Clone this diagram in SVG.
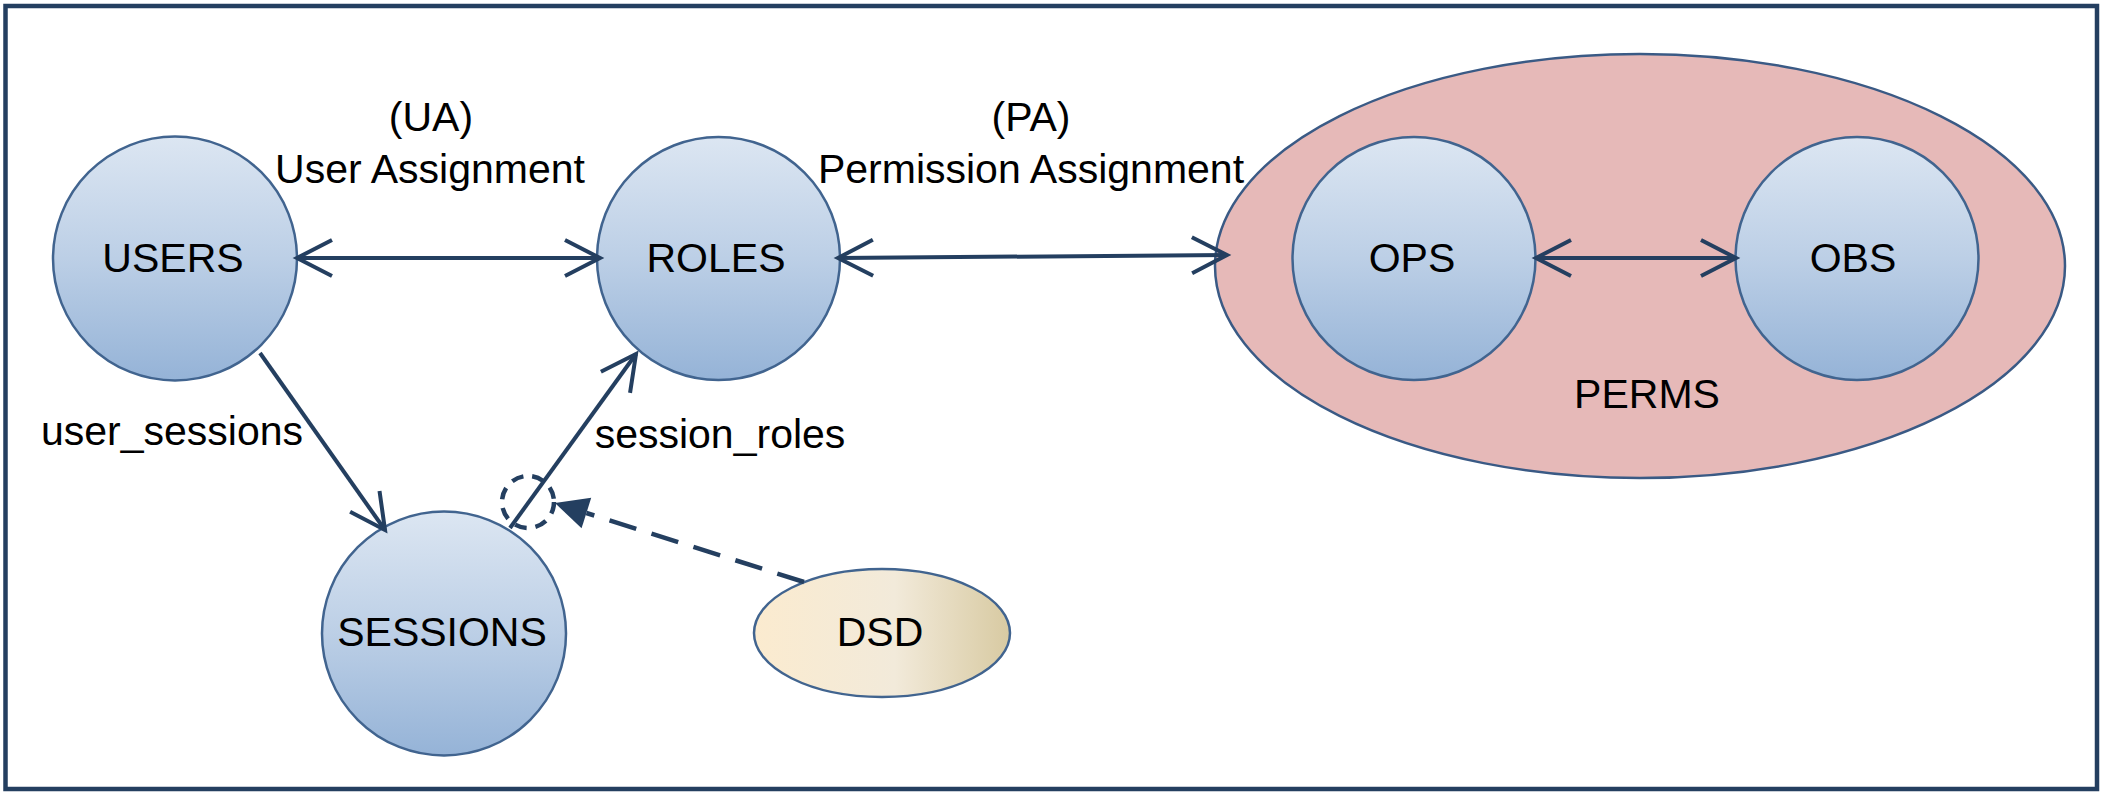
<svg xmlns="http://www.w3.org/2000/svg" width="2101" height="793" viewBox="0 0 2101 793">
<style>
  text { font-family: "Liberation Sans", Arial, sans-serif; font-size: 41px; fill: #000; text-anchor: middle; }
  .node { fill: url(#blueGrad); stroke: #41648F; stroke-width: 2.5; }
  .conn { fill: none; stroke: #243F60; stroke-width: 4; }
  .dash { fill: none; stroke: #243F60; stroke-width: 4.5; stroke-dasharray: 28 16; }
</style>
<defs>
  <linearGradient id="blueGrad" x1="0" y1="0" x2="0" y2="1">
    <stop offset="0" stop-color="#DCE6F2"/>
    <stop offset="0.5" stop-color="#BCCFE6"/>
    <stop offset="1" stop-color="#95B3D7"/>
  </linearGradient>
  <linearGradient id="dsdGrad" x1="0" y1="0" x2="1" y2="0">
    <stop offset="0" stop-color="#FBEBCF"/>
    <stop offset="0.55" stop-color="#F2EADA"/>
    <stop offset="1" stop-color="#D8CAA2"/>
  </linearGradient>
  <marker id="openArrow" markerUnits="userSpaceOnUse" markerWidth="60" markerHeight="60" viewBox="-50 -30 60 60" refX="0" refY="0" orient="auto-start-reverse">
    <path d="M-35,-18 L0,0 L-35,18" fill="none" stroke="#243F60" stroke-width="4" stroke-linejoin="miter"/>
  </marker>
  <marker id="solidArrow" markerUnits="userSpaceOnUse" markerWidth="50" markerHeight="50" viewBox="-5 -25 50 50" refX="0" refY="0" orient="auto">
    <path d="M0,-16 L33,0 L0,16 Z" fill="#243F60"/>
  </marker>
</defs>

<rect id="frame" x="5.5" y="6" width="2091.5" height="783" fill="#FFFFFF" stroke="#243F60" stroke-width="4.5"/>

<g id="perms">
  <ellipse cx="1640" cy="266" rx="425" ry="212" fill="#E6B9B8" stroke="#3A5A85" stroke-width="2.5"/>
  <text x="1647" y="408">PERMS</text>
</g>

<g id="users">
  <circle class="node" cx="175" cy="258.5" r="122"/>
  <text x="173" y="272">USERS</text>
</g>
<g id="roles">
  <circle class="node" cx="718.5" cy="258.5" r="121.5"/>
  <text x="716" y="272">ROLES</text>
</g>
<g id="sessions">
  <circle class="node" cx="444" cy="633.5" r="122"/>
  <text x="442" y="646">SESSIONS</text>
</g>
<g id="ops">
  <circle class="node" cx="1414" cy="258.5" r="121.5"/>
  <text x="1412" y="272">OPS</text>
</g>
<g id="obs">
  <circle class="node" cx="1857" cy="258.5" r="121.5"/>
  <text x="1853" y="272">OBS</text>
</g>
<g id="dsd">
  <ellipse cx="882" cy="633" rx="128" ry="64" fill="url(#dsdGrad)" stroke="#41648F" stroke-width="2.5"/>
  <text x="880" y="646">DSD</text>
</g>

<g id="connectors">
  <line class="conn" x1="297" y1="258" x2="600" y2="258" marker-start="url(#openArrow)" marker-end="url(#openArrow)"/>
  <line class="conn" x1="838" y1="258" x2="1227" y2="255" marker-start="url(#openArrow)" marker-end="url(#openArrow)"/>
  <line class="conn" x1="1536" y1="258" x2="1736" y2="258" marker-start="url(#openArrow)" marker-end="url(#openArrow)"/>
  <line class="conn" x1="260" y1="353" x2="385" y2="530" marker-end="url(#openArrow)"/>
  <line class="conn" x1="510" y1="528" x2="636" y2="354" marker-end="url(#openArrow)"/>
  <circle cx="528" cy="502" r="26" fill="none" stroke="#243F60" stroke-width="4.5" stroke-dasharray="12 9"/>
  <line class="dash" x1="804" y1="582" x2="586.4" y2="513" marker-end="url(#solidArrow)"/>
</g>

<g id="labels">
  <text x="431" y="131">(UA)</text>
  <text x="430" y="183">User Assignment</text>
  <text x="1031" y="131">(PA)</text>
  <text x="1031" y="183">Permission Assignment</text>
  <text x="172" y="445">user_sessions</text>
  <text x="720" y="448">session_roles</text>
</g>
</svg>
